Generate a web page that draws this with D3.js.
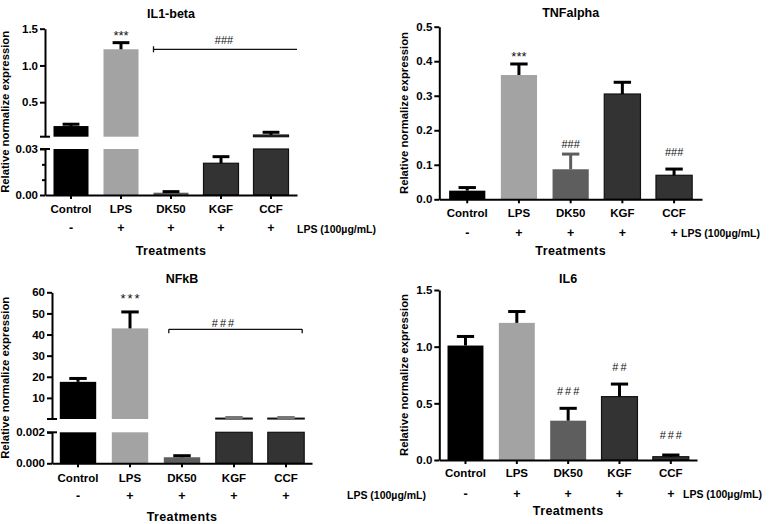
<!DOCTYPE html>
<html>
<head>
<meta charset="utf-8">
<script src="https://cdn.jsdelivr.net/npm/d3@7"></script>
<style>
  html, body { margin: 0; padding: 0; background: #fff; }
  svg { display: block; font-family: "Liberation Sans", Arial, Helvetica, sans-serif; }
</style>
</head>
<body>
<svg id="chart" width="776" height="524"></svg>
<script>
// ---------------- DATA ----------------
const categories = ["Control", "LPS", "DK50", "KGF", "CCF"];
const lpsSigns = ["-", "+", "+", "+", "+"];
const lpsLabel = "LPS (100µg/mL)";
const xTitle = "Treatments";
const yTitle = "Relative normalize expression";

const il1Values = [0.175, 1.22, 0.0015, 0.0207, 0.053];
const il1Errors = [0.025, 0.09, 0.0007, 0.0043, 0.037];
const il1Marks = ["", "***", "", "", ""];
const il1LowerTicks = [0, 0.03];
const il1LowerMinor = [0.01, 0.02];
const il1UpperTicks = [0.5, 1.0, 1.5];
const il1Bracket = "###";

const tnfValues = [0.025, 0.36, 0.087, 0.305, 0.0696];
const tnfErrors = [0.009, 0.032, 0.044, 0.034, 0.018];
const tnfMarks = ["", "***", "###", "", "###"];
const tnfTicks = [0, 0.1, 0.2, 0.3, 0.4, 0.5];

const nfkbValues = [17.6, 42.9, 0.00039, 0.4, 0.4];
const nfkbErrors = [1.6, 7.8, 0.0001, 0.3, 0.3];
const nfkbMarks = ["", "***", "", "", ""];
const nfkbLowerTicks = [0, 0.002];
const nfkbUpperTicks = [10, 20, 30, 40, 50, 60];
const nfkbBracket = "###";

const il6Values = [1.01, 1.21, 0.347, 0.559, 0.029];
const il6Errors = [0.08, 0.10, 0.109, 0.111, 0.015];
const il6Marks = ["", "", "###", "##", "###"];
const il6Ticks = [0, 0.5, 1.0, 1.5];

// ---------------- STYLE ----------------
const fills = ["#000000", "#a3a3a3", "#5e5e5e", "#333333", "#333333"];
const strokes = ["none", "none", "none", "#111111", "#111111"];

const svg = d3.select("#chart");

function drawPanel(cfg) {
  const g = svg.append("g");
  const x = d3.scaleBand().domain(categories)
    .range([cfg.axisX, cfg.xEnd]).paddingInner(0.3).paddingOuter(cfg.padOuter);
  const bw = x.bandwidth();
  const segs = cfg.segments.map(s => Object.assign({}, s, {
    scale: d3.scaleLinear().domain(s.domain).range(s.range)
  }));
  const axisY = segs[0].range[0];
  const segFor = v => segs.find(s => v <= s.domain[1]) || segs[segs.length - 1];

  // bars (split across broken segments)
  segs.forEach((s, si) => {
    const rows = categories.map((c, i) => ({ c, i, v: cfg.values[i] }))
      .filter(d => d.v > s.domain[0]);
    g.append("g").selectAll("rect").data(rows).join("rect")
      .attr("x", d => x(d.c))
      .attr("width", bw)
      .attr("y", d => s.scale(Math.min(d.v, s.domain[1])))
      .attr("height", d => s.scale(s.domain[0]) - s.scale(Math.min(d.v, s.domain[1])))
      .attr("fill", d => fills[d.i])
      .attr("stroke", d => strokes[d.i])
      .attr("stroke-width", 1.2);
  });

  // error bars (upper only)
  const errs = categories.map((c, i) => {
    const v = cfg.values[i], t = v + cfg.errors[i];
    return { c, i, y0: segFor(v).scale(v), y1: segFor(t).scale(t) };
  });
  const eg = g.append("g");
  eg.selectAll("line.stem").data(errs).join("line").attr("class", "stem")
    .attr("x1", d => x(d.c) + bw / 2).attr("x2", d => x(d.c) + bw / 2)
    .attr("y1", d => d.y0).attr("y2", d => d.y1)
    .attr("stroke", d => (cfg.errColors || [])[d.i] || "#000").attr("stroke-width", 3);
  eg.selectAll("line.cap").data(errs).join("line").attr("class", "cap")
    .attr("x1", d => x(d.c) + bw * 0.26).attr("x2", d => x(d.c) + bw * 0.74)
    .attr("y1", d => d.y1).attr("y2", d => d.y1)
    .attr("stroke", d => (cfg.errColors || [])[d.i] || "#000").attr("stroke-width", 3);

  // significance marks
  g.append("g").selectAll("text").data(errs.filter(d => cfg.marks[d.i]))
    .join("text")
    .attr("x", d => x(d.c) + bw / 2 + (cfg.markSpacing || 0) / 2)
    .attr("y", d => d.y1 - cfg.markOffsets[d.i])
    .attr("text-anchor", "middle")
    .attr("font-size", d => cfg.marks[d.i].startsWith("*") ? 13 : 11)
    .attr("letter-spacing", cfg.markSpacing || 0)
    .attr("fill", "#111")
    .text(d => cfg.marks[d.i]);

  // bracket
  if (cfg.bracket) {
    const b = cfg.bracket;
    const bx1 = x(b.from) + b.dx1, bx2 = b.to ? x(b.to) + bw + b.dx2 : cfg.xEnd;
    g.append("line").attr("x1", bx1).attr("x2", bx2).attr("y1", b.y).attr("y2", b.y)
      .attr("stroke", "#111").attr("stroke-width", 1.3);
    if (b.leftTick) g.append("line").attr("x1", bx1).attr("x2", bx1)
      .attr("y1", b.y + b.leftTick[0]).attr("y2", b.y + b.leftTick[1])
      .attr("stroke", "#111").attr("stroke-width", 1.3);
    if (b.rightTick) g.append("line").attr("x1", bx2).attr("x2", bx2)
      .attr("y1", b.y + b.rightTick[0]).attr("y2", b.y + b.rightTick[1])
      .attr("stroke", "#111").attr("stroke-width", 1.3);
    g.append("text").attr("x", b.textX).attr("y", b.textY)
      .attr("text-anchor", "middle").attr("font-size", 11)
      .attr("letter-spacing", cfg.markSpacing || 0)
      .attr("fill", "#111").text(b.text);
  }

  // y axis segments
  segs.forEach((s, si) => {
    const ax = g.append("g").attr("transform", `translate(${cfg.axisX},0)`)
      .call(d3.axisLeft(s.scale).tickValues(s.ticks).tickFormat(d3.format(s.fmt))
        .tickSize(5).tickSizeOuter(0).tickPadding(2));
    ax.select(".domain").attr("stroke", "#000").attr("stroke-width", 2);
    ax.selectAll(".tick line").attr("stroke", "#000").attr("stroke-width", 2);
    ax.selectAll(".tick text").attr("font-size", 11.5).attr("font-weight", "bold").attr("fill", "#000");
    if (s.minor) {
      const mx = g.append("g").attr("transform", `translate(${cfg.axisX},0)`)
        .call(d3.axisLeft(s.scale).tickValues(s.minor).tickFormat("").tickSize(3).tickSizeOuter(0));
      mx.select(".domain").remove();
      mx.selectAll(".tick line").attr("stroke", "#000").attr("stroke-width", 2);
    }
    if (segs.length > 1) {
      const yb = si === 0 ? s.range[1] : s.range[0];
      g.append("line").attr("x1", cfg.axisX - 5).attr("x2", cfg.axisX + 5)
        .attr("y1", yb).attr("y2", yb).attr("stroke", "#000").attr("stroke-width", 2);
    }
  });

  // x axis
  const xa = g.append("g").attr("transform", `translate(0,${axisY})`)
    .call(d3.axisBottom(x).tickSize(4).tickSizeOuter(0).tickPadding(cfg.tickPad));
  xa.select(".domain").attr("stroke", "#000").attr("stroke-width", 2);
  xa.selectAll(".tick line").attr("stroke", "#000").attr("stroke-width", 2);
  xa.selectAll(".tick text").attr("font-size", 11.5).attr("font-weight", "bold").attr("fill", "#000");

  // LPS +/- row
  g.append("g").selectAll("text").data(categories).join("text")
    .attr("x", c => x(c) + bw / 2).attr("y", cfg.signY)
    .attr("text-anchor", "middle").attr("font-size", 12.5).attr("font-weight", "bold")
    .text((c, i) => lpsSigns[i]);
  g.append("text").attr("x", cfg.lpsX).attr("y", cfg.lpsY)
    .attr("font-size", 10.5).attr("font-weight", "bold").text(lpsLabel);

  const cx = (cfg.axisX + cfg.xEnd) / 2;
  g.append("text").attr("x", cx).attr("y", cfg.treatY).attr("text-anchor", "middle")
    .attr("font-size", 12.5).attr("font-weight", "bold").attr("letter-spacing", 0.4).text(xTitle);
  g.append("text").attr("x", cx).attr("y", cfg.titleY).attr("text-anchor", "middle")
    .attr("font-size", 12.5).attr("font-weight", "bold").text(cfg.title);
  const yc = (segs[0].range[0] + segs[segs.length - 1].range[1]) / 2;
  g.append("text").attr("transform", `translate(${cfg.yLabelX},${yc}) rotate(-90)`)
    .attr("text-anchor", "middle").attr("font-size", 11.3).attr("font-weight", "bold").text(yTitle);
}

drawPanel({
  title: "IL1-beta", values: il1Values, errors: il1Errors, marks: il1Marks,
  markOffsets: [0, 2.6, 0, 0, 0],
  axisX: 45, xEnd: 297, padOuter: 0.17,
  segments: [
    { domain: [0, 0.03], range: [195, 149], ticks: il1LowerTicks, minor: il1LowerMinor, fmt: ".2f" },
    { domain: [0.03, 1.5], range: [136.7, 28.7], ticks: il1UpperTicks, fmt: ".1f" }
  ],
  bracket: { text: il1Bracket, from: "DK50", dx1: 0, to: null, y: 49.3, leftTick: [-3, 3], textX: 224, textY: 44 },
  titleY: 18, yLabelX: 9, tickPad: 6, signY: 231.5, lpsX: 297, lpsY: 233, treatY: 254.5
});

drawPanel({
  title: "TNFalpha", values: tnfValues, errors: tnfErrors, marks: tnfMarks,
  markOffsets: [0, 2.7, 5.7, 0, 12.6],
  errColors: ["#000", "#000", "#5e5e5e", "#000", "#000"],
  axisX: 439.3, xEnd: 702, padOuter: 0.19,
  segments: [{ domain: [0, 0.5], range: [199.3, 26.7], ticks: tnfTicks, fmt: ".1f" }],
  titleY: 17, yLabelX: 408, tickPad: 5.5, signY: 237, lpsX: 681, lpsY: 236.5, treatY: 255
});

drawPanel({
  title: "NFkB", values: nfkbValues, errors: nfkbErrors, marks: nfkbMarks,
  markOffsets: [0, 9.3, 0, 0, 0], markSpacing: 2,
  errColors: ["#000", "#000", "#000", "#777", "#777"],
  axisX: 52, xEnd: 312, padOuter: 0.15,
  segments: [
    { domain: [0, 0.002], range: [463.3, 432.3], ticks: nfkbLowerTicks, fmt: ".3f" },
    { domain: [0.002, 60], range: [419, 292.3], ticks: nfkbUpperTicks, fmt: "d" }
  ],
  bracket: { text: nfkbBracket, from: "DK50", dx1: 5, to: "CCF", dx2: -2, y: 329.3, leftTick: [0, 4], rightTick: [0, 4], textX: 224, textY: 326.5 },
  titleY: 283, yLabelX: 9, tickPad: 7, signY: 499.5, lpsX: 347, lpsY: 498.5, treatY: 521
});

drawPanel({
  title: "IL6", values: il6Values, errors: il6Errors, marks: il6Marks,
  markOffsets: [0, 0, 13.3, 12.7, 16], markSpacing: 2,
  axisX: 439.3, xEnd: 697, padOuter: 0.16,
  segments: [{ domain: [0, 1.5], range: [460, 290], ticks: il6Ticks, fmt: ".1f" }],
  titleY: 283, yLabelX: 408, tickPad: 5, signY: 498, lpsX: 683, lpsY: 498, treatY: 515
});
</script>
</body>
</html>
